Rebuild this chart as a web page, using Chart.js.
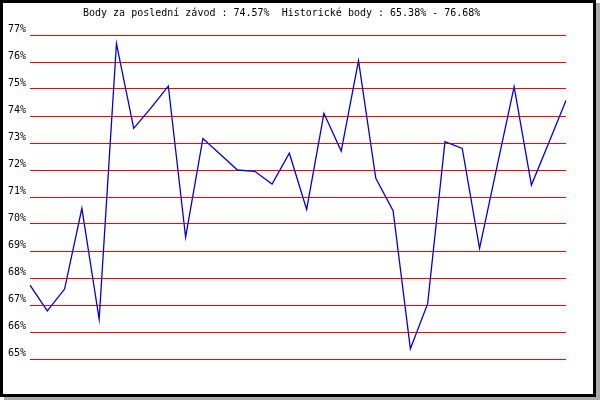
<!DOCTYPE html>
<html>
<head>
<meta charset="utf-8">
<script src="https://cdn.jsdelivr.net/npm/chart.js@4.4.1/dist/chart.umd.min.js"></script>
<style>
	html, body { margin: 0; padding: 0; background: #fff; }
	#frame {
		position: absolute; left: 0; top: 0;
		width: 596px; height: 397px; box-sizing: border-box;
		border: 3px solid #000; background: #fff;
		box-shadow: 4px 3px 0 #aaaaaa;
	}
	#wrap { position: absolute; left: 0; top: 0; width: 600px; height: 400px; }
</style>
</head>
<body>
<div id="frame"></div>
<div id="wrap"><canvas id="mycanvas"></canvas></div>
<script>
var titleText = "Body za poslední závod : 74.57%  Historické body : 65.38% - 76.68%";
var races = [];
for (var i = 1; i <= 32; i++) races.push(i);
var points = [67.74, 66.78, 67.59, 70.58, 66.47, 76.68, 73.54, 74.3, 75.11, 69.51,
	73.17, 72.58, 72.0, 71.95, 71.48, 72.62, 70.54, 74.10, 72.70, 76.05,
	71.69, 70.49, 65.38, 67.05, 73.05, 72.80, 69.10, 72.1, 75.09, 71.44,
	73.0, 74.57];
var yMin = 65;
var yMax = 77;

// title drawn left-aligned like the original image
var titlePlugin = {
	id: 'oldTitle',
	afterDraw: function(chart) {
		var c = chart.ctx;
		c.save();
		c.font = '10px "DejaVu Sans Mono"';
		c.fillStyle = '#000';
		c.textAlign = 'left';
		c.textBaseline = 'middle';
		c.fillText(titleText, 83, 13);
		c.restore();
	}
};

var ctx = document.getElementById('mycanvas');
var lineGraph = new Chart(ctx, {
	type: 'line',
	data: {
		labels: races,
		datasets: [{
			label: 'body',
			data: points,
			borderColor: '#0000e0',
			borderWidth: 1.3,
			pointRadius: 0,
			tension: 0,
			fill: false
		}]
	},
	options: {
		responsive: true,
		maintainAspectRatio: false,
		animation: false,
		layout: { padding: { left: 0, right: 34, top: 35, bottom: 41 } },
		plugins: { legend: { display: false }, tooltip: { enabled: false }, title: { display: false } },
		scales: {
			x: { display: false },
			y: {
				min: yMin,
				max: yMax,
				afterFit: function(s) { s.width = 30; },
				border: { display: false },
				grid: { color: '#ff0000', lineWidth: 1, drawTicks: false },
				ticks: {
					stepSize: 1,
					padding: 4,
					labelOffset: -6,
					color: '#000',
					font: { family: 'DejaVu Sans Mono', size: 10 },
					callback: function(v) { return v + '%'; }
				}
			}
		}
	},
	plugins: [titlePlugin]
});
</script>
</body>
</html>
